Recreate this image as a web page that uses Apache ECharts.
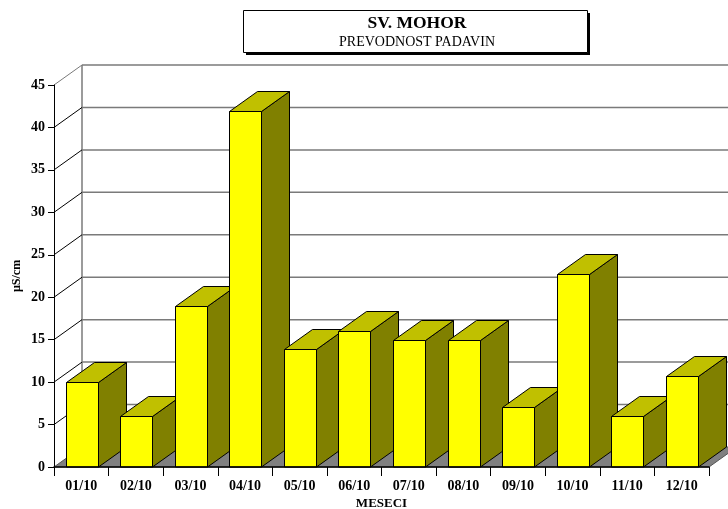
<!DOCTYPE html>
<html>
<head>
<meta charset="utf-8">
<script src="https://cdn.jsdelivr.net/npm/echarts@6/dist/echarts.min.js"></script>
<style>html,body{margin:0;padding:0;background:#fff}#c{width:728px;height:509px}</style>
</head>
<body>
<div id="c"></div>
<script>
const categories = ['01/10','02/10','03/10','04/10','05/10','06/10','07/10','08/10','09/10','10/10','11/10','12/10'];
const values = [10, 6, 19, 41.9, 13.9, 16, 15, 15, 7.1, 22.7, 6, 10.7];
const yTicks = [0, 5, 10, 15, 20, 25, 30, 35, 40, 45];

const DX = 28, DY = -20;
const FONT = '"Liberation Serif","Times New Roman",serif';
const GREY = '#7a7a7a';

function renderWall(params, api) {
  const v = api.value(1);
  const cs = params.coordSys;
  const y = api.coord([0, v])[1];
  const x0 = cs.x, x1 = cs.x + cs.width;
  const kids = [];
  if (v === 0) {
    const top = api.coord([0, yTicks[yTicks.length - 1]])[1];
    kids.push({type:'polygon', shape:{points:[[x0,y],[x0+DX,y+DY],[x1+DX,y+DY],[x1,y]]},
      style:{fill:'#808080', stroke:'#555', lineWidth:1}});
    kids.push({type:'line', shape:{x1:x0+DX,y1:y+DY,x2:x0+DX,y2:top+DY},
      style:{stroke:GREY, lineWidth:1.5}});
  } else {
    kids.push({type:'line', shape:{x1:x0+DX,y1:y+DY,x2:x1+DX,y2:y+DY},
      style:{stroke:GREY, lineWidth:1.5}});
    kids.push({type:'line', shape:{x1:x0,y1:y,x2:x0+DX,y2:y+DY},
      style:{stroke:v === yTicks[yTicks.length - 1] ? GREY : '#000', lineWidth:1}});
  }
  return {type:'group', children:kids};
}

function renderBar(params, api) {
  const i = api.value(0), v = api.value(1);
  const base = api.coord([i, 0]);
  const top = api.coord([i, v]);
  const w = api.size([1, 0])[0] * 0.6;
  const l = Math.round(base[0] - w / 2 + 0.6) + 0.5, r = l + 32;
  const t = Math.round(top[1]) + 0.5, b = base[1];
  const ln = {stroke:'#000', lineWidth:1, lineJoin:'round'};
  return {type:'group', children:[
    {type:'polygon', shape:{points:[[r,t],[r+DX,t+DY],[r+DX,b+DY],[r,b]]}, style:{fill:'#808000', ...ln}},
    {type:'polygon', shape:{points:[[l,t],[l+DX,t+DY],[r+DX,t+DY],[r,t]]}, style:{fill:'#c0c000', ...ln}},
    {type:'polygon', shape:{points:[[l,t],[r,t],[r,b],[l,b]]}, style:{fill:'#ffff00', ...ln}}
  ]};
}

const chart = echarts.init(document.getElementById('c'), null, {renderer:'canvas'});
chart.setOption({
  animation:false,
  backgroundColor:'#fff',
  title:{
    text:'SV. MOHOR', subtext:'PREVODNOST PADAVIN', left:417, top:14, textAlign:'center', itemGap:3, padding:0,
    textStyle:{fontFamily:FONT, fontWeight:'bold', fontSize:17.5, color:'#000', lineHeight:18},
    subtextStyle:{fontFamily:FONT, fontSize:14, color:'#000', lineHeight:15}
  },
  graphic:[
    {type:'rect', z:-2, shape:{x:246,y:13,width:344,height:42}, style:{fill:'#000'}},
    {type:'rect', z:-1, shape:{x:243.5,y:10.5,width:344,height:42}, style:{fill:'#fff',stroke:'#000',lineWidth:1}}
  ],
  grid:{left:54, right:19, top:85, bottom:42, outerBoundsMode:'none'},
  xAxis:{
    type:'category', data:categories, name:'MESECI', nameLocation:'middle', nameGap:30, nameMoveOverlap:false,
    nameTextStyle:{fontFamily:FONT, fontWeight:'bold', fontSize:13, color:'#000'},
    axisLine:{lineStyle:{color:'#000', width:1.5}},
    axisTick:{show:true, alignWithLabel:false, length:9, lineStyle:{color:'#000'}},
    axisLabel:{fontFamily:FONT, fontWeight:'bold', fontSize:14, color:'#000', margin:12, interval:0},
    splitLine:{show:false}, z:5
  },
  yAxis:{
    type:'value', min:yTicks[0], max:yTicks[yTicks.length-1], interval:yTicks[1]-yTicks[0],
    name:'µS/cm', nameLocation:'middle', nameGap:31, nameRotate:90, nameMoveOverlap:false,
    nameTextStyle:{fontFamily:FONT, fontWeight:'bold', fontSize:12, color:'#000'},
    axisLine:{show:true, lineStyle:{color:'#000', width:1}},
    axisTick:{show:true, length:6, lineStyle:{color:'#000'}},
    axisLabel:{fontFamily:FONT, fontWeight:'bold', fontSize:14, color:'#000', margin:9},
    splitLine:{show:false}, z:5
  },
  series:[
    {type:'custom', name:'wall', z:1, silent:true, clip:false, renderItem:renderWall,
      encode:{x:0,y:1}, data:yTicks.map(v => [0, v])},
    {type:'custom', name:'µS/cm', z:2, clip:false, renderItem:renderBar,
      encode:{x:0,y:1}, data:values.map((v,i) => [i, v])}
  ]
});
</script>
</body>
</html>
